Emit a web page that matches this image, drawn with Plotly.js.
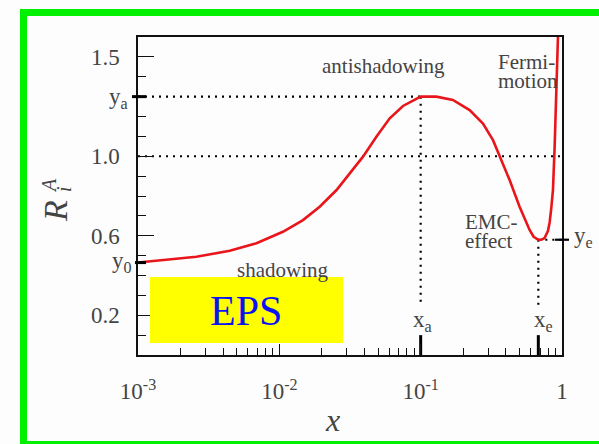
<!DOCTYPE html>
<html>
<head>
<meta charset="utf-8">
<script src="https://cdn.plot.ly/plotly-3.0.1.min.js"></script>
<style>
  html, body { margin: 0; padding: 0; background: #fdfdfd; font-family: 'Liberation Serif'; }
  #chart { width: 599px; height: 444px; }
</style>
</head>
<body>
<div id="chart"></div>
<script>
// Nuclear modification ratio R_i^A versus momentum fraction x
const xValues = [0.001, 0.00259, 0.00446, 0.00689, 0.0106, 0.0147, 0.0193, 0.0254, 0.0315,
  0.0391, 0.0486, 0.0604, 0.075, 0.1, 0.129, 0.169, 0.222, 0.276, 0.325, 0.362, 0.426,
  0.501, 0.590, 0.63, 0.68, 0.714, 0.753, 0.796, 0.818, 0.84, 0.863, 0.887, 0.912, 0.935, 0.95];
const rValues = [0.465, 0.494, 0.525, 0.562, 0.620, 0.679, 0.746, 0.830, 0.914,
  0.998, 1.098, 1.191, 1.253, 1.30, 1.30, 1.283, 1.232, 1.165, 1.081, 1.00, 0.880,
  0.746, 0.629, 0.595, 0.58, 0.58, 0.588, 0.625, 0.668, 0.74, 0.830, 1.048, 1.299, 1.585, 1.75];

// Characteristic points of the curve
const y0 = 0.465;   // small-x plateau
const xa = 0.1;     // antishadowing peak
const ya = 1.30;
const xe = 0.68;    // EMC minimum
const ye = 0.58;
const unity = 1.0;

// Axis ticks
const xTickVals = [0.001, 0.01, 0.1, 1];
const xTickText = ['10<sup>-3</sup>', '10<sup>-2</sup>', '10<sup>-1</sup>', '1'];
const yTickVals = [0.2, 0.6, 1.0, 1.5];
const yTickText = ['0.2', '0.6', '1.0', '1.5'];

// minor ticks: 2..9 in every decade, 0.1 steps in y
const xMinor = [];
for (let d = -3; d < 0; d++) for (let k = 2; k <= 9; k++) xMinor.push(+(k * Math.pow(10, d)).toPrecision(3));
const yMinor = [];
for (let v = 1; v <= 16; v++) yMinor.push(+(v / 10).toFixed(1));

// plot box geometry in pixels (used for text placement)
const W = 599, H = 444, L = 138, R = 37, T = 37, B = 89;
const PW = W - L - R, PH = H - T - B;
const px = x => (x - L) / PW;
const py = y => (H - B - y) / PH;

const SERIF = 'Liberation Serif';
const dropEnd = 0.25;

const dotted = { color: '#000', width: 2.2, dash: '2px,5px' };

const traces = [
  { x: [xValues[0], xa], y: [ya, ya], mode: 'lines', line: dotted, hoverinfo: 'skip' },
  { x: [xValues[0], 1], y: [unity, unity], mode: 'lines', line: dotted, hoverinfo: 'skip' },
  { x: [xa, xa], y: [ya, dropEnd], mode: 'lines', line: dotted, hoverinfo: 'skip' },
  { x: [xe, xe], y: [ye, dropEnd], mode: 'lines', line: dotted, hoverinfo: 'skip' },
  { x: [xe, 1], y: [ye, ye], mode: 'lines', line: dotted, hoverinfo: 'skip' },
  // thick markers on the x axis at xa and xe
  { x: [xa, xa], y: [0, 0.1], mode: 'lines', line: { color: '#000', width: 3 }, hoverinfo: 'skip' },
  { x: [xe, xe], y: [0, 0.1], mode: 'lines', line: { color: '#000', width: 3 }, hoverinfo: 'skip' },
  // the ratio curve
  { x: xValues, y: rValues, mode: 'lines', line: { color: '#e8161b', width: 2.6 }, hoverinfo: 'skip' }
];

function label(text, x, y, size, opts) {
  return Object.assign({
    text: text, xref: 'paper', yref: 'paper', x: px(x), y: py(y),
    xanchor: 'center', yanchor: 'middle', showarrow: false,
    font: { family: SERIF, size: size }
  }, opts || {});
}

const annotations = [
  label('antishadowing', 383, 66, 21),
  label('Fermi-', 496, 62, 21, { xanchor: 'left', height: 18 }),
  label('motion', 496, 81, 21, { xanchor: 'left', height: 18 }),
  label('EMC-', 463, 222, 21, { xanchor: 'left', height: 18 }),
  label('effect', 463, 241, 21, { xanchor: 'left', height: 18 }),
  label('shadowing', 282, 270, 21),
  label('EPS', 246, 311, 42, { font: { family: SERIF, size: 42, color: '#0a14f0' } }),
  label('x<sub>a</sub>', 422, 321, 23),
  label('x<sub>e</sub>', 543, 321, 23),
  label('y<sub>e</sub>', 572, 237, 23, { xanchor: 'left' }),
  label('y<sub>a</sub>', 130, 98, 23, { xanchor: 'right' }),
  label('y<sub>0</sub>', 134, 262, 23, { xanchor: 'right' }),
  label('<i>x</i>', 332, 420, 32),
  label('<i>R</i>', 55, 211, 34, { textangle: -90 }),
  label('<i>A</i>', 49, 186, 20, { textangle: -90 }),
  label('<i>i</i>', 64, 189, 20, { textangle: -90 })
];

const shapes = [
  // green frame
  { type: 'rect', xref: 'paper', yref: 'paper', x0: px(20), x1: px(27), y0: py(9), y1: py(444), fillcolor: '#00f000', line: { width: 0 } },
  { type: 'rect', xref: 'paper', yref: 'paper', x0: px(20), x1: px(599), y0: py(9), y1: py(16), fillcolor: '#00f000', line: { width: 0 } },
  { type: 'rect', xref: 'paper', yref: 'paper', x0: px(20), x1: px(599), y0: py(441), y1: py(444), fillcolor: '#00f000', line: { width: 0 } },
  // EPS label box
  { type: 'rect', xref: 'paper', yref: 'paper', x0: px(150), x1: px(343), y0: py(277), y1: py(343), fillcolor: '#ffff00', line: { width: 0 }, layer: 'above' },
  // thick ticks for y0, ya, ye
  { type: 'line', xref: 'paper', yref: 'y', x0: px(132), x1: px(146), y0: ya, y1: ya, line: { color: '#000', width: 3 } },
  { type: 'line', xref: 'paper', yref: 'y', x0: px(135), x1: px(146), y0: y0, y1: y0, line: { color: '#000', width: 3 } },
  { type: 'line', xref: 'paper', yref: 'y', x0: px(555), x1: px(569), y0: ye, y1: ye, line: { color: '#000', width: 2.2 } }
];

const layout = {
  width: W, height: H,
  margin: { l: L, r: R, t: T, b: B, pad: 0 },
  paper_bgcolor: '#fdfdfd', plot_bgcolor: '#fdfdfd',
  showlegend: false,
  xaxis: {
    type: 'log', range: [-3, 0], showgrid: false, zeroline: false,
    showline: true, linecolor: '#111', linewidth: 1.5, mirror: true,
    tickmode: 'array', tickvals: xTickVals, ticktext: xTickText,
    ticks: 'inside', ticklen: 11, tickwidth: 1.4, tickcolor: '#111',
    ticklabelstandoff: 15,
    tickfont: { family: SERIF, size: 23 },
    minor: { tickmode: 'array', tickvals: xMinor, ticks: 'inside', ticklen: 7, tickwidth: 1.2, tickcolor: '#111', showgrid: false }
  },
  yaxis: {
    range: [0, 1.6], showgrid: false, zeroline: false,
    showline: true, linecolor: '#111', linewidth: 1.5, mirror: true,
    tickmode: 'array', tickvals: yTickVals, ticktext: yTickText,
    ticks: 'inside', ticklen: 16, tickwidth: 1.4, tickcolor: '#111',
    ticklabelstandoff: 12,
    tickfont: { family: SERIF, size: 23 },
    minor: { tickmode: 'array', tickvals: yMinor, ticks: 'inside', ticklen: 8, tickwidth: 1.2, tickcolor: '#111', showgrid: false }
  },
  annotations: annotations,
  shapes: shapes
};

Plotly.newPlot('chart', traces, layout, { displayModeBar: false });
</script>
</body>
</html>
